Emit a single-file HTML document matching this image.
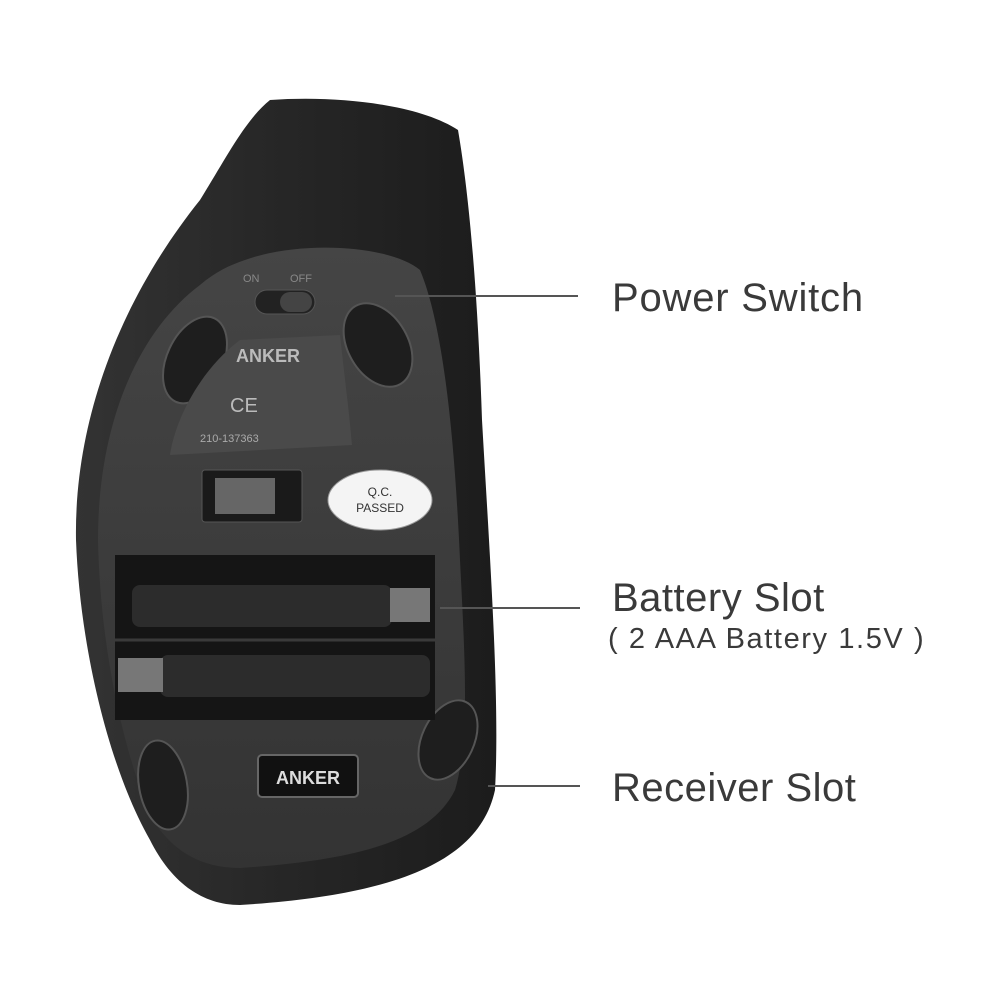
<!DOCTYPE html>
<html><head><meta charset="utf-8"><style>
html,body{margin:0;padding:0;background:#fff;}
.wrap{position:relative;width:1000px;height:1000px;overflow:hidden;font-family:"Liberation Sans",sans-serif;}
.lbl{position:absolute;color:#3a3a3a;white-space:nowrap;letter-spacing:0.5px;}
</style></head><body><div class="wrap">
<svg width="1000" height="1000" style="position:absolute;left:0;top:0">
<defs>
<linearGradient id="body" x1="0" y1="0" x2="1" y2="0">
<stop offset="0" stop-color="#333"/><stop offset="0.5" stop-color="#262626"/><stop offset="1" stop-color="#1c1c1c"/>
</linearGradient>
<linearGradient id="plate" x1="0" y1="0" x2="0" y2="1">
<stop offset="0" stop-color="#454545"/><stop offset="1" stop-color="#333"/>
</linearGradient>
</defs>
<path d="M270,100 C340,95 420,105 458,130 C470,200 478,300 482,420 C490,560 500,700 495,790 C480,860 400,895 240,905 C200,905 170,880 150,840 C110,770 80,650 76,540 C74,420 120,300 200,200 C225,160 245,120 270,100 Z" fill="url(#body)"/>
<path d="M245,260 C300,240 390,245 420,270 C445,330 455,450 460,560 C465,660 470,740 455,790 C430,840 360,860 240,868 C200,868 170,850 150,815 C120,740 100,640 98,540 C98,420 140,330 200,285 C215,272 230,265 245,260 Z" fill="url(#plate)"/>
<ellipse cx="195" cy="360" rx="28" ry="46" transform="rotate(25 195 360)" fill="#1e1e1e" stroke="#555" stroke-width="2"/>
<ellipse cx="378" cy="345" rx="30" ry="45" transform="rotate(-30 378 345)" fill="#1e1e1e" stroke="#555" stroke-width="2"/>
<ellipse cx="163" cy="785" rx="24" ry="45" transform="rotate(-10 163 785)" fill="#1e1e1e" stroke="#555" stroke-width="2"/>
<ellipse cx="448" cy="740" rx="26" ry="42" transform="rotate(25 448 740)" fill="#1e1e1e" stroke="#555" stroke-width="2"/>
<rect x="255" y="290" width="60" height="24" rx="12" fill="#222" stroke="#555"/>
<rect x="280" y="292" width="32" height="20" rx="10" fill="#444"/>
<text x="243" y="282" font-size="11" fill="#888">ON</text>
<text x="290" y="282" font-size="11" fill="#888">OFF</text>
<path d="M240,340 L340,335 C345,380 350,420 352,445 L170,455 C175,420 200,370 240,340 Z" fill="#4a4a4a"/>
<text x="236" y="362" font-size="18" font-weight="bold" fill="#bbb">ANKER</text>
<text x="230" y="412" font-size="20" fill="#bbb">CE</text>
<text x="200" y="442" font-size="11" fill="#aaa">210-137363</text>
<rect x="202" y="470" width="100" height="52" rx="3" fill="#1a1a1a" stroke="#555"/>
<rect x="215" y="478" width="60" height="36" fill="#666"/>
<ellipse cx="380" cy="500" rx="52" ry="30" fill="#f4f4f4" stroke="#999"/>
<text x="380" y="496" font-size="12" text-anchor="middle" fill="#333">Q.C.</text>
<text x="380" y="512" font-size="12" text-anchor="middle" fill="#333">PASSED</text>
<rect x="115" y="555" width="320" height="165" fill="#151515"/>
<rect x="132" y="585" width="260" height="42" rx="8" fill="#2c2c2c"/>
<rect x="160" y="655" width="270" height="42" rx="8" fill="#2c2c2c"/>
<rect x="390" y="588" width="40" height="34" fill="#777"/>
<rect x="118" y="658" width="45" height="34" fill="#777"/>
<line x1="115" y1="640" x2="435" y2="640" stroke="#3a3a3a" stroke-width="3"/>
<rect x="258" y="755" width="100" height="42" rx="4" fill="#111" stroke="#666" stroke-width="2"/>
<text x="308" y="784" font-size="18" font-weight="bold" text-anchor="middle" fill="#ddd">ANKER</text>
<line x1="395" y1="296" x2="578" y2="296" stroke="#555" stroke-width="2"/>
<line x1="440" y1="608" x2="580" y2="608" stroke="#555" stroke-width="2"/>
<line x1="488" y1="786" x2="580" y2="786" stroke="#555" stroke-width="2"/>
</svg>
<div class="lbl" style="left:612px;top:276px;font-size:40px;letter-spacing:0.8px;">Power Switch</div>
<div class="lbl" style="left:612px;top:576px;font-size:40px;">Battery Slot</div>
<div class="lbl" style="left:608px;top:623px;font-size:29px;letter-spacing:1.6px;">( 2 AAA Battery 1.5V )</div>
<div class="lbl" style="left:612px;top:766px;font-size:40px;">Receiver Slot</div>
</div></body></html>
